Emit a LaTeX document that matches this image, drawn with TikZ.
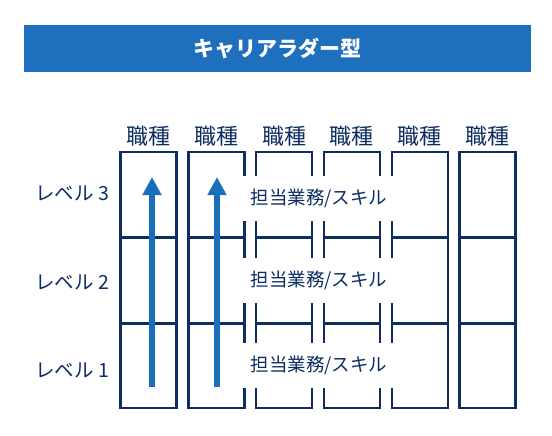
\documentclass[tikz,border=0pt]{standalone}
\usepackage{fontspec}
\setmainfont{Noto Sans CJK JP}
\usetikzlibrary{arrows.meta,positioning,calc}
\definecolor{navy}{HTML}{0E2D63}
\definecolor{ladderblue}{HTML}{1F6FBF}
\definecolor{arrowblue}{HTML}{1A6FBD}

\begin{document}
\begin{tikzpicture}[x=1pt,y=-1pt,
	colbox/.style={draw=navy,line width=2.4pt,minimum width=56pt,minimum height=256pt,inner sep=0pt},
	colhead/.style={text=navy,font=\fontsize{22}{24}\selectfont,inner sep=0pt},
	levellabel/.style={text=navy,font=\fontsize{19.5}{22}\selectfont,inner sep=0pt},
	taskbox/.style={fill=white,text=navy,font=\fontsize{18.5}{22}\selectfont,minimum width=153pt,minimum height=45pt,inner sep=0pt},
	uparrow/.style={draw=arrowblue,line width=6.5pt,-{Triangle[width=18pt,length=18pt]}}]
	\useasboundingbox (0,0) rectangle (552,436);
	% title bar
	\node[fill=ladderblue,minimum width=507pt,minimum height=47pt,text=white,
	font=\bfseries\fontsize{21}{24}\selectfont] (title) at (277.5,48.5) {キャリアラダー型};
	% columns
	\foreach \i in {0,...,5} {
		\node[colbox] (col\i) at (148.5+67.8*\i,280) {};
		\node[colhead] (head\i) at (148.5+67.8*\i,136) {職種};
		\draw[navy,line width=2.4pt] ($(col\i.north west)!0.335!(col\i.south west)$) -- ($(col\i.north east)!0.335!(col\i.south east)$);
		\draw[navy,line width=2.4pt] ($(col\i.north west)!0.668!(col\i.south west)$) -- ($(col\i.north east)!0.668!(col\i.south east)$);
	}
	% levels
	\node[levellabel] (lv3) at (72,193) {レベル 3};
	\node[levellabel] (lv2) at (72,282) {レベル 2};
	\node[levellabel] (lv1) at (72,370) {レベル 1};
	% task labels
	\node[taskbox] (task3) at (319,198) {担当業務/スキル};
	\node[taskbox] (task2) at (319,280) {担当業務/スキル};
	\node[taskbox] (task1) at (319,365.5) {担当業務/スキル};
	% arrows
	\coordinate (a0s) at (152,387);
	\coordinate (a0e) at (152,177);
	\coordinate (a1s) at (217,387);
	\coordinate (a1e) at (217,177);
	\draw[uparrow] (a0s) -- (a0e);
	\draw[uparrow] (a1s) -- (a1e);
\end{tikzpicture}
\end{document}
